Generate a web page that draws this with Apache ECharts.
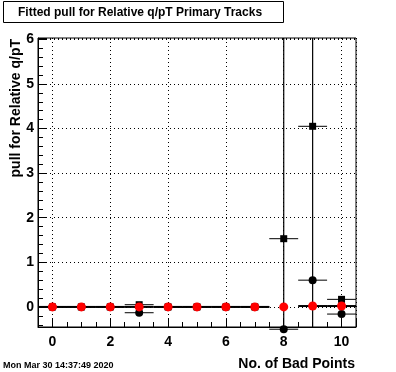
<!DOCTYPE html>
<html>
<head>
<meta charset="utf-8">
<script src="https://cdn.jsdelivr.net/npm/echarts@6/dist/echarts.min.js"></script>
<style>
html,body{margin:0;padding:0;background:#fff;}
#c{width:396px;height:372px;}
</style>
</head>
<body>
<div id="c"></div>
<script>
// ---- data ----
const binsX = [0, 1, 2, 3, 4, 5, 6, 7, 8, 9, 10];
const squareY    = [0, 0, 0, 0.05, 0, 0, 0, 0, 1.53, 4.05, 0.17];
const squareYErr = [0, 0, 0, 0, 0, 0, 0, 0, 10, 10, 0];
const squareXErr = [0.5, 0.5, 0.5, 0.5, 0.5, 0.5, 0.5, 0.5, 0.5, 0.5, 0.5];
const circleY    = [0, 0, 0, -0.13, 0, 0, 0, 0, -0.5, 0.6, -0.16];
const circleYErr = [0, 0, 0, 0, 0, 0, 0, 0, 0, 0, 0];
const circleXErr = [0.5, 0.5, 0.5, 0.5, 0.5, 0.5, 0.5, 0.5, 0.5, 0.5, 0.5];
const redY       = [0, 0, 0, 0, 0, 0, 0, 0, 0, 0.02, 0.02];
const redXErr    = [0.5, 0.5, 0.5, 0.5, 0.5, 0.5, 0.5, 0.5, 0, 0.5, 0.5];
const redYErr    = [0, 0, 0, 0, 0, 0, 0, 0, 0, 0, 0];

const titleText = 'Fitted pull for Relative q/pT Primary Tracks';
const xTitle = 'No. of Bad Points';
const yTitle = 'pull for Relative q/pT';
const dateText = 'Mon Mar 30 14:37:49 2020';

const FONT = '"Liberation Sans", Arial, Helvetica, sans-serif';

function errData(ys, xe, ye) {
  return binsX.map((x, i) => [x, ys[i], xe[i], ye[i]]);
}
function ptData(ys) {
  return binsX.map((x, i) => [x, ys[i]]);
}
function errRender(lw) {
  return function (params, api) {
    const x = api.value(0), y = api.value(1), ex = api.value(2), ey = api.value(3);
    const cs = params.coordSys;
    const children = [];
    const style = { stroke: '#000', lineWidth: lw };
    if (ex > 0) {
      const l = api.coord([x - ex, y]), r = api.coord([x + ex, y]);
      children.push({ type: 'line', shape: { x1: l[0], y1: l[1], x2: r[0], y2: r[1] }, style: style });
    }
    if (ey > 0) {
      const t = api.coord([x, y + ey]), b = api.coord([x, y - ey]);
      const top = Math.max(t[1], cs.y), bot = Math.min(b[1], cs.y + cs.height);
      children.push({ type: 'line', shape: { x1: t[0], y1: top, x2: b[0], y2: bot }, style: { stroke: '#000', lineWidth: 1.2 } });
    }
    return { type: 'group', children: children };
  };
}

const chart = echarts.init(document.getElementById('c'), null, { renderer: 'canvas' });
const intLabel = v => (Math.abs(v - Math.round(v)) < 1e-6 ? String(Math.round(v)) : '');

chart.setOption({
  animation: false,
  backgroundColor: '#fff',
  grid: { left: 38, right: 40, top: 38, bottom: 45, show: true, borderColor: '#000', borderWidth: 1, backgroundColor: 'transparent' },
  xAxis: {
    type: 'value', min: -0.5, max: 10.5, splitNumber: 5,
    axisLine: { show: true, onZero: false, lineStyle: { color: '#000', width: 1 } },
    axisTick: { show: true, inside: true, length: 9, lineStyle: { color: '#000' } },
    minorTick: { show: true, splitNumber: 4, length: 5, lineStyle: { color: '#000' } },
    axisLabel: { formatter: intLabel, showMinLabel: false, showMaxLabel: false, color: '#000', fontFamily: FONT, fontWeight: 'bold', fontSize: 14, margin: 8 },
    splitLine: { show: true, lineStyle: { color: '#000', type: [1, 3], width: 1 } }
  },
  yAxis: {
    type: 'value', min: -0.45, max: 6.03, splitNumber: 6,
    axisLine: { show: true, onZero: false, lineStyle: { color: '#000', width: 1 } },
    axisTick: { show: true, inside: true, length: 9, lineStyle: { color: '#000' } },
    minorTick: { show: true, splitNumber: 5, length: 5, lineStyle: { color: '#000' } },
    axisLabel: { formatter: intLabel, showMinLabel: false, showMaxLabel: false, color: '#000', fontFamily: FONT, fontWeight: 'bold', fontSize: 14, margin: 4 },
    splitLine: { show: true, lineStyle: { color: '#000', type: [1, 3], width: 1 } }
  },
  graphic: [
    { type: 'rect', shape: { x: 3.5, y: 1.5, width: 280, height: 21 }, style: { fill: '#fff', stroke: '#000', lineWidth: 1 } },
    { type: 'text', x: 18, y: 12.5, style: { text: titleText, fill: '#000', font: 'bold 12px ' + FONT, textAlign: 'left', textVerticalAlign: 'middle' } },
    { type: 'text', x: 16, y: 39, rotation: Math.PI / 2, style: { text: yTitle, fill: '#000', font: 'bold 14px ' + FONT, textAlign: 'right', textVerticalAlign: 'middle' } },
    { type: 'text', x: 355, y: 364, style: { text: xTitle, fill: '#000', font: 'bold 14px ' + FONT, textAlign: 'right', textVerticalAlign: 'middle' } },
    { type: 'text', x: 3, y: 366, style: { text: dateText, fill: '#000', font: 'bold 9px ' + FONT, textAlign: 'left', textVerticalAlign: 'middle' } }
  ],
  series: [
    { type: 'custom', name: 'sqErr', data: errData(squareY, squareXErr, squareYErr), renderItem: errRender(1), clip: false, z: 2, encode: { x: 0, y: 1 } },
    { type: 'custom', name: 'ciErr', data: errData(circleY, circleXErr, circleYErr), renderItem: errRender(1), clip: false, z: 2, encode: { x: 0, y: 1 } },
    { type: 'custom', name: 'redErr', data: errData(redY, redXErr, redYErr), renderItem: errRender(2), clip: false, z: 2, encode: { x: 0, y: 1 } },
    { type: 'scatter', name: 'squares', data: ptData(squareY), symbol: 'rect', symbolSize: 7, itemStyle: { color: '#000', opacity: 1 }, clip: false, z: 3 },
    { type: 'scatter', name: 'circles', data: ptData(circleY), symbol: 'circle', symbolSize: 8, itemStyle: { color: '#000', opacity: 1 }, clip: false, z: 3 },
    { type: 'scatter', name: 'red', data: ptData(redY), symbol: 'circle', symbolSize: 9, itemStyle: { color: '#ff0000', opacity: 1 }, clip: false, z: 4 }
  ]
});
</script>
</body>
</html>
